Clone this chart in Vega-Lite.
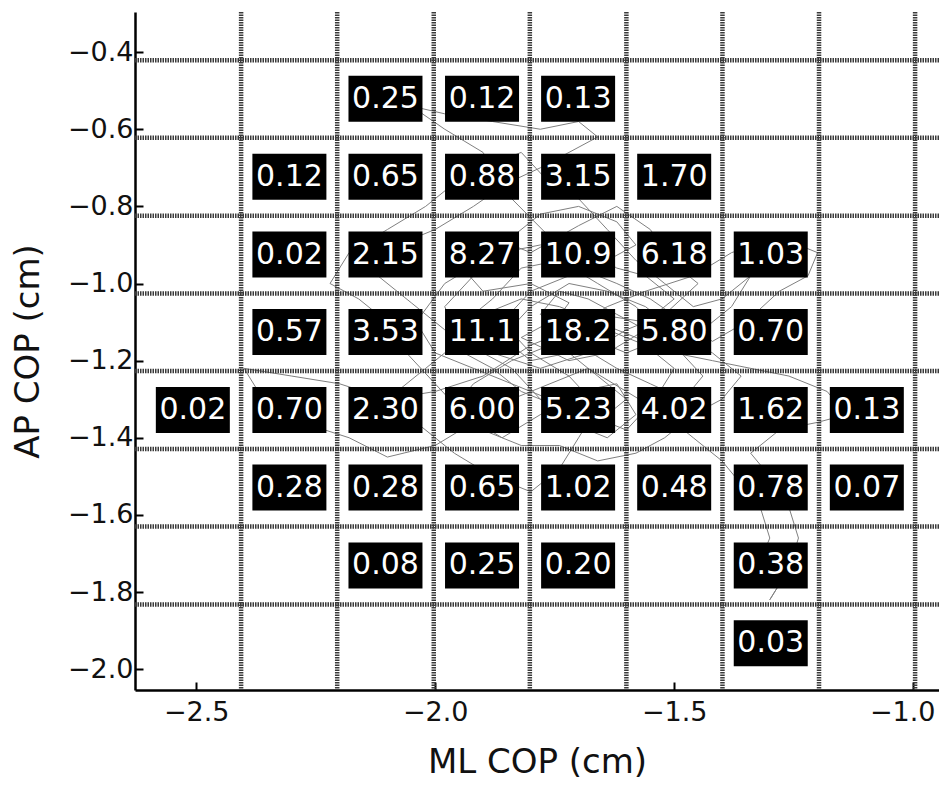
{
  "$schema": "https://vega.github.io/schema/vega-lite/v6.json",
  "width": 804,
  "height": 678,
  "autosize": {"type": "none"},
  "padding": {"left": 135, "top": 12, "right": 0, "bottom": 97},
  "background": "white",
  "config": {
    "view": {"stroke": null},
    "font": "DejaVu Sans",
    "axis": {
      "grid": false,
      "domainColor": "black",
      "domainWidth": 2.5,
      "tickColor": "black",
      "tickWidth": 2,
      "tickSize": -8,
      "labelFont": "DejaVu Sans",
      "labelFontSize": 27,
      "labelColor": "#111",
      "titleFont": "DejaVu Sans",
      "titleFontSize": 34,
      "titleFontWeight": "normal",
      "titleColor": "#111"
    },
    "axisX": {"labelPadding": 17, "titlePadding": 20},
    "axisY": {"labelPadding": 10, "titlePadding": 22}
  },
  "datasets": {
    "cells": [
      {"x": -2.104, "y": -0.521, "label": "0.25"},
      {"x": -1.902, "y": -0.521, "label": "0.12"},
      {"x": -1.701, "y": -0.521, "label": "0.13"},
      {"x": -2.305, "y": -0.723, "label": "0.12"},
      {"x": -2.104, "y": -0.723, "label": "0.65"},
      {"x": -1.902, "y": -0.723, "label": "0.88"},
      {"x": -1.701, "y": -0.723, "label": "3.15"},
      {"x": -1.500, "y": -0.723, "label": "1.70"},
      {"x": -2.305, "y": -0.925, "label": "0.02"},
      {"x": -2.104, "y": -0.925, "label": "2.15"},
      {"x": -1.902, "y": -0.925, "label": "8.27"},
      {"x": -1.701, "y": -0.925, "label": "10.9"},
      {"x": -1.500, "y": -0.925, "label": "6.18"},
      {"x": -1.298, "y": -0.925, "label": "1.03"},
      {"x": -2.305, "y": -1.126, "label": "0.57"},
      {"x": -2.104, "y": -1.126, "label": "3.53"},
      {"x": -1.902, "y": -1.126, "label": "11.1"},
      {"x": -1.701, "y": -1.126, "label": "18.2"},
      {"x": -1.500, "y": -1.126, "label": "5.80"},
      {"x": -1.298, "y": -1.126, "label": "0.70"},
      {"x": -2.507, "y": -1.328, "label": "0.02"},
      {"x": -2.305, "y": -1.328, "label": "0.70"},
      {"x": -2.104, "y": -1.328, "label": "2.30"},
      {"x": -1.902, "y": -1.328, "label": "6.00"},
      {"x": -1.701, "y": -1.328, "label": "5.23"},
      {"x": -1.500, "y": -1.328, "label": "4.02"},
      {"x": -1.298, "y": -1.328, "label": "1.62"},
      {"x": -1.097, "y": -1.328, "label": "0.13"},
      {"x": -2.305, "y": -1.529, "label": "0.28"},
      {"x": -2.104, "y": -1.529, "label": "0.28"},
      {"x": -1.902, "y": -1.529, "label": "0.65"},
      {"x": -1.701, "y": -1.529, "label": "1.02"},
      {"x": -1.500, "y": -1.529, "label": "0.48"},
      {"x": -1.298, "y": -1.529, "label": "0.78"},
      {"x": -1.097, "y": -1.529, "label": "0.07"},
      {"x": -2.104, "y": -1.731, "label": "0.08"},
      {"x": -1.902, "y": -1.731, "label": "0.25"},
      {"x": -1.701, "y": -1.731, "label": "0.20"},
      {"x": -1.298, "y": -1.731, "label": "0.38"},
      {"x": -1.298, "y": -1.933, "label": "0.03"}
    ],
    "hgrid": [
      {"y": -0.421}, {"y": -0.622}, {"y": -0.824}, {"y": -1.026},
      {"y": -1.227}, {"y": -1.429}, {"y": -1.630}, {"y": -1.832}
    ],
    "vgrid": [
      {"x": -2.406}, {"x": -2.205}, {"x": -2.003}, {"x": -1.802},
      {"x": -1.600}, {"x": -1.399}, {"x": -1.197}, {"x": -0.996}
    ],
    "trace": [
      {"i": 1, "x": -1.75, "y": -1.10}, {"i": 2, "x": -1.72, "y": -1.05}, {"i": 3, "x": -1.80, "y": -1.00},
      {"i": 4, "x": -1.90, "y": -1.02}, {"i": 5, "x": -1.95, "y": -0.95}, {"i": 6, "x": -1.88, "y": -0.88},
      {"i": 7, "x": -1.80, "y": -0.92}, {"i": 8, "x": -1.70, "y": -0.85}, {"i": 9, "x": -1.62, "y": -0.80},
      {"i": 10, "x": -1.55, "y": -0.86}, {"i": 11, "x": -1.50, "y": -0.95}, {"i": 12, "x": -1.45, "y": -1.00},
      {"i": 13, "x": -1.52, "y": -1.08}, {"i": 14, "x": -1.60, "y": -1.12}, {"i": 15, "x": -1.68, "y": -1.18},
      {"i": 16, "x": -1.78, "y": -1.22}, {"i": 17, "x": -1.88, "y": -1.18}, {"i": 18, "x": -1.98, "y": -1.12},
      {"i": 19, "x": -2.05, "y": -1.05}, {"i": 20, "x": -2.12, "y": -0.98}, {"i": 21, "x": -2.08, "y": -0.90},
      {"i": 22, "x": -2.00, "y": -0.86}, {"i": 23, "x": -1.92, "y": -0.80}, {"i": 24, "x": -1.85, "y": -0.74},
      {"i": 25, "x": -1.78, "y": -0.70}, {"i": 26, "x": -1.72, "y": -0.66}, {"i": 27, "x": -1.66, "y": -0.62},
      {"i": 28, "x": -1.70, "y": -0.58}, {"i": 29, "x": -1.78, "y": -0.60}, {"i": 30, "x": -1.88, "y": -0.58},
      {"i": 31, "x": -1.98, "y": -0.56}, {"i": 32, "x": -2.05, "y": -0.54}, {"i": 33, "x": -1.98, "y": -0.60},
      {"i": 34, "x": -1.90, "y": -0.66}, {"i": 35, "x": -1.84, "y": -0.78}, {"i": 36, "x": -1.76, "y": -0.88},
      {"i": 37, "x": -1.70, "y": -0.96}, {"i": 38, "x": -1.62, "y": -1.00}, {"i": 39, "x": -1.55, "y": -1.04},
      {"i": 40, "x": -1.48, "y": -1.10}, {"i": 41, "x": -1.42, "y": -1.15}, {"i": 42, "x": -1.35, "y": -1.10},
      {"i": 43, "x": -1.28, "y": -1.02}, {"i": 44, "x": -1.22, "y": -0.98}, {"i": 45, "x": -1.20, "y": -0.92},
      {"i": 46, "x": -1.28, "y": -0.88}, {"i": 47, "x": -1.38, "y": -0.92}, {"i": 48, "x": -1.46, "y": -0.98},
      {"i": 49, "x": -1.56, "y": -1.02}, {"i": 50, "x": -1.64, "y": -1.06}, {"i": 51, "x": -1.72, "y": -1.12},
      {"i": 52, "x": -1.80, "y": -1.16}, {"i": 53, "x": -1.90, "y": -1.24}, {"i": 54, "x": -2.00, "y": -1.28},
      {"i": 55, "x": -2.10, "y": -1.30}, {"i": 56, "x": -2.20, "y": -1.26}, {"i": 57, "x": -2.30, "y": -1.24},
      {"i": 58, "x": -2.40, "y": -1.22}, {"i": 59, "x": -2.36, "y": -1.30}, {"i": 60, "x": -2.28, "y": -1.36},
      {"i": 61, "x": -2.18, "y": -1.40}, {"i": 62, "x": -2.10, "y": -1.45}, {"i": 63, "x": -2.00, "y": -1.42},
      {"i": 64, "x": -1.92, "y": -1.36}, {"i": 65, "x": -1.84, "y": -1.30}, {"i": 66, "x": -1.76, "y": -1.26},
      {"i": 67, "x": -1.68, "y": -1.22}, {"i": 68, "x": -1.60, "y": -1.28}, {"i": 69, "x": -1.52, "y": -1.34},
      {"i": 70, "x": -1.46, "y": -1.40}, {"i": 71, "x": -1.40, "y": -1.46}, {"i": 72, "x": -1.36, "y": -1.52},
      {"i": 73, "x": -1.32, "y": -1.58}, {"i": 74, "x": -1.30, "y": -1.66}, {"i": 75, "x": -1.32, "y": -1.72},
      {"i": 76, "x": -1.28, "y": -1.78}, {"i": 77, "x": -1.30, "y": -1.82}, {"i": 78, "x": -1.26, "y": -1.74},
      {"i": 79, "x": -1.24, "y": -1.66}, {"i": 80, "x": -1.26, "y": -1.58}, {"i": 81, "x": -1.30, "y": -1.50},
      {"i": 82, "x": -1.34, "y": -1.44}, {"i": 83, "x": -1.28, "y": -1.38}, {"i": 84, "x": -1.20, "y": -1.36},
      {"i": 85, "x": -1.14, "y": -1.34}, {"i": 86, "x": -1.18, "y": -1.28}, {"i": 87, "x": -1.26, "y": -1.24},
      {"i": 88, "x": -1.34, "y": -1.22}, {"i": 89, "x": -1.42, "y": -1.20}, {"i": 90, "x": -1.50, "y": -1.18},
      {"i": 91, "x": -1.58, "y": -1.14}, {"i": 92, "x": -1.66, "y": -1.10}, {"i": 93, "x": -1.74, "y": -1.06},
      {"i": 94, "x": -1.82, "y": -1.04}, {"i": 95, "x": -1.90, "y": -1.08}, {"i": 96, "x": -1.96, "y": -1.16},
      {"i": 97, "x": -2.02, "y": -1.22}, {"i": 98, "x": -2.08, "y": -1.28}, {"i": 99, "x": -2.04, "y": -1.36},
      {"i": 100, "x": -1.96, "y": -1.44}, {"i": 101, "x": -1.88, "y": -1.50}, {"i": 102, "x": -1.80, "y": -1.54},
      {"i": 103, "x": -1.74, "y": -1.48}, {"i": 104, "x": -1.70, "y": -1.40}, {"i": 105, "x": -1.66, "y": -1.32},
      {"i": 106, "x": -1.72, "y": -1.24}, {"i": 107, "x": -1.80, "y": -1.18}, {"i": 108, "x": -1.86, "y": -1.10},
      {"i": 109, "x": -1.80, "y": -1.02}, {"i": 110, "x": -1.72, "y": -0.98}, {"i": 111, "x": -1.64, "y": -0.94},
      {"i": 112, "x": -1.58, "y": -0.90}, {"i": 113, "x": -1.62, "y": -0.84}, {"i": 114, "x": -1.70, "y": -0.80},
      {"i": 115, "x": -1.78, "y": -0.82}, {"i": 116, "x": -1.84, "y": -0.88}, {"i": 117, "x": -1.90, "y": -0.94},
      {"i": 118, "x": -1.98, "y": -1.00}, {"i": 119, "x": -2.04, "y": -1.10}, {"i": 120, "x": -2.00, "y": -1.18},
      {"i": 121, "x": -1.92, "y": -1.22}, {"i": 122, "x": -1.84, "y": -1.26}, {"i": 123, "x": -1.76, "y": -1.30},
      {"i": 124, "x": -1.68, "y": -1.34}, {"i": 125, "x": -1.60, "y": -1.38}, {"i": 126, "x": -1.54, "y": -1.30},
      {"i": 127, "x": -1.50, "y": -1.22}, {"i": 128, "x": -1.56, "y": -1.16}, {"i": 129, "x": -1.64, "y": -1.12},
      {"i": 130, "x": -1.72, "y": -1.14}, {"i": 131, "x": -1.78, "y": -1.08}, {"i": 132, "x": -1.74, "y": -1.02},
      {"i": 133, "x": -1.68, "y": -1.04}, {"i": 134, "x": -1.62, "y": -1.08}, {"i": 135, "x": -1.56, "y": -1.12},
      {"i": 136, "x": -1.64, "y": -1.18}, {"i": 137, "x": -1.72, "y": -1.20}, {"i": 138, "x": -1.82, "y": -1.14},
      {"i": 139, "x": -1.76, "y": -1.10},
      {"i": 140, "x": -1.70, "y": -1.16}, {"i": 141, "x": -1.62, "y": -1.22}, {"i": 142, "x": -1.55, "y": -1.26},
      {"i": 143, "x": -1.48, "y": -1.30}, {"i": 144, "x": -1.44, "y": -1.24}, {"i": 145, "x": -1.50, "y": -1.16},
      {"i": 146, "x": -1.58, "y": -1.06}, {"i": 147, "x": -1.66, "y": -1.00}, {"i": 148, "x": -1.74, "y": -0.94},
      {"i": 149, "x": -1.82, "y": -0.96}, {"i": 150, "x": -1.88, "y": -1.04}, {"i": 151, "x": -1.94, "y": -1.10},
      {"i": 152, "x": -1.90, "y": -1.18}, {"i": 153, "x": -1.84, "y": -1.22}, {"i": 154, "x": -1.78, "y": -1.30},
      {"i": 155, "x": -1.72, "y": -1.36}, {"i": 156, "x": -1.64, "y": -1.40}, {"i": 157, "x": -1.58, "y": -1.34},
      {"i": 158, "x": -1.62, "y": -1.26}, {"i": 159, "x": -1.70, "y": -1.28}, {"i": 160, "x": -1.78, "y": -1.34},
      {"i": 161, "x": -1.86, "y": -1.40}, {"i": 162, "x": -1.94, "y": -1.34}, {"i": 163, "x": -2.00, "y": -1.26},
      {"i": 164, "x": -2.06, "y": -1.18}, {"i": 165, "x": -2.10, "y": -1.10}, {"i": 166, "x": -2.16, "y": -1.04},
      {"i": 167, "x": -2.22, "y": -1.00}, {"i": 168, "x": -2.18, "y": -0.92}, {"i": 169, "x": -2.10, "y": -0.86},
      {"i": 170, "x": -2.02, "y": -0.80}, {"i": 171, "x": -1.96, "y": -0.74}, {"i": 172, "x": -1.90, "y": -0.70},
      {"i": 173, "x": -1.82, "y": -0.66}, {"i": 174, "x": -1.76, "y": -0.74}, {"i": 175, "x": -1.70, "y": -0.78},
      {"i": 176, "x": -1.64, "y": -0.86}, {"i": 177, "x": -1.58, "y": -0.94}, {"i": 178, "x": -1.52, "y": -1.00},
      {"i": 179, "x": -1.46, "y": -1.06}, {"i": 180, "x": -1.40, "y": -1.04}, {"i": 181, "x": -1.34, "y": -0.98},
      {"i": 182, "x": -1.38, "y": -1.06}, {"i": 183, "x": -1.44, "y": -1.12}, {"i": 184, "x": -1.52, "y": -1.14},
      {"i": 185, "x": -1.60, "y": -1.18}, {"i": 186, "x": -1.68, "y": -1.14}, {"i": 187, "x": -1.76, "y": -1.16},
      {"i": 188, "x": -1.84, "y": -1.20}, {"i": 189, "x": -1.92, "y": -1.26}, {"i": 190, "x": -1.96, "y": -1.32},
      {"i": 191, "x": -1.90, "y": -1.38}, {"i": 192, "x": -1.82, "y": -1.42}, {"i": 193, "x": -1.74, "y": -1.42},
      {"i": 194, "x": -1.66, "y": -1.46}, {"i": 195, "x": -1.58, "y": -1.44}, {"i": 196, "x": -1.52, "y": -1.40},
      {"i": 197, "x": -1.46, "y": -1.34}, {"i": 198, "x": -1.40, "y": -1.30}, {"i": 199, "x": -1.36, "y": -1.24},
      {"i": 200, "x": -1.42, "y": -1.18}, {"i": 201, "x": -1.50, "y": -1.12}, {"i": 202, "x": -1.56, "y": -1.06},
      {"i": 203, "x": -1.64, "y": -1.02}, {"i": 204, "x": -1.72, "y": -1.00}, {"i": 205, "x": -1.80, "y": -1.06},
      {"i": 206, "x": -1.86, "y": -1.14}, {"i": 207, "x": -1.80, "y": -1.20}, {"i": 208, "x": -1.72, "y": -1.18},
      {"i": 209, "x": -1.66, "y": -1.24}, {"i": 210, "x": -1.60, "y": -1.30}, {"i": 211, "x": -1.66, "y": -1.36},
      {"i": 212, "x": -1.74, "y": -1.32}, {"i": 213, "x": -1.82, "y": -1.28}, {"i": 214, "x": -1.88, "y": -1.22},
      {"i": 215, "x": -1.94, "y": -1.18}, {"i": 216, "x": -1.98, "y": -1.06}, {"i": 217, "x": -1.92, "y": -0.98},
      {"i": 218, "x": -1.86, "y": -0.92}, {"i": 219, "x": -1.78, "y": -0.90}, {"i": 220, "x": -1.70, "y": -0.90},
      {"i": 221, "x": -1.62, "y": -0.96}, {"i": 222, "x": -1.56, "y": -0.98}, {"i": 223, "x": -1.50, "y": -1.04},
      {"i": 224, "x": -1.56, "y": -1.10}, {"i": 225, "x": -1.66, "y": -1.08}, {"i": 226, "x": -1.76, "y": -1.12}
    ]
  },
  "layer": [
    {
      "data": {"name": "trace"},
      "mark": {"type": "line", "color": "#808080", "strokeWidth": 1},
      "encoding": {
        "x": {"field": "x", "type": "quantitative", "title": "ML COP (cm)",
              "scale": {"domain": [-2.628, -0.946], "nice": false, "zero": false},
              "axis": {"values": [-2.5, -2.0, -1.5, -1.0], "format": ".1f",
                       "labelOffset": {"expr": "datum.value == -1 ? -11 : 0"}}},
        "y": {"field": "y", "type": "quantitative", "title": "AP COP (cm)",
              "scale": {"domain": [-2.054, -0.296], "nice": false, "zero": false},
              "axis": {"values": [-0.4, -0.6, -0.8, -1.0, -1.2, -1.4, -1.6, -1.8, -2.0], "format": ".1f"}},
        "order": {"field": "i", "type": "quantitative"}
      }
    },
    {
      "data": {"name": "hgrid"},
      "mark": {"type": "rule", "color": "#3a3a3a", "strokeWidth": 4.5, "strokeDash": [1.5, 1]},
      "encoding": {
        "y": {"field": "y", "type": "quantitative", "title": "AP COP (cm)"}
      }
    },
    {
      "data": {"name": "vgrid"},
      "mark": {"type": "rule", "color": "#3a3a3a", "strokeWidth": 4.5, "strokeDash": [1.5, 1]},
      "encoding": {
        "x": {"field": "x", "type": "quantitative", "title": "ML COP (cm)"}
      }
    },
    {
      "data": {"name": "cells"},
      "mark": {"type": "point", "shape": "M-1,-0.6216H1V0.6216H-1Z", "size": 5476, "filled": true, "color": "black", "opacity": 1},
      "encoding": {
        "x": {"field": "x", "type": "quantitative", "title": "ML COP (cm)"},
        "y": {"field": "y", "type": "quantitative", "title": "AP COP (cm)"}
      }
    },
    {
      "data": {"name": "cells"},
      "mark": {"type": "text", "color": "white", "font": "DejaVu Sans", "fontSize": 30, "align": "center", "baseline": "middle"},
      "encoding": {
        "x": {"field": "x", "type": "quantitative", "title": "ML COP (cm)"},
        "y": {"field": "y", "type": "quantitative", "title": "AP COP (cm)"},
        "text": {"field": "label", "type": "nominal"}
      }
    }
  ]
}
